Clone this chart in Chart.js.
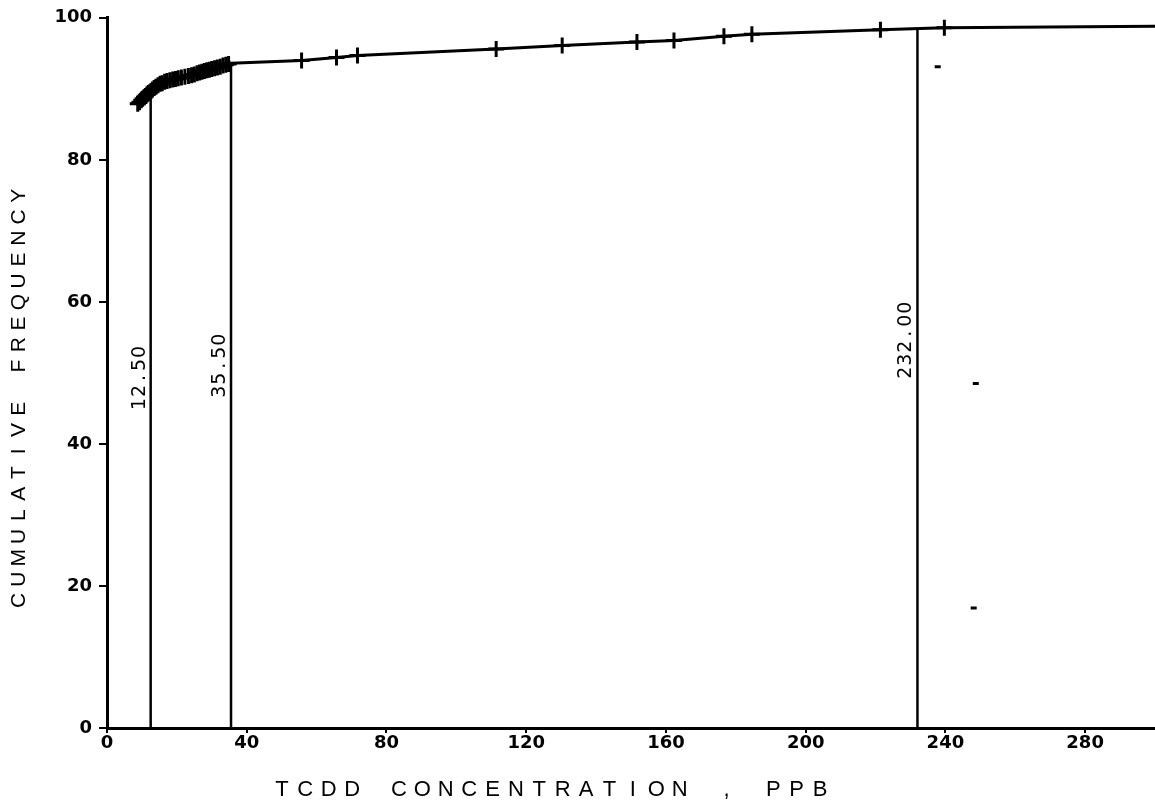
<!DOCTYPE html>
<html>
<head>
<meta charset="utf-8">
<script src="https://cdn.jsdelivr.net/npm/chart.js@4"></script>
<style>
  html, body { margin: 0; padding: 0; background: #fff; }
  #wrap { width: 1155px; height: 807px; }
</style>
</head>
<body>
<div id="wrap"><canvas id="chart" width="1155" height="807"></canvas></div>
<script>
// cumulative frequency curve (TCDD, ppb)
const cdfX = [8.8, 9.3, 9.8, 10.2, 10.6, 11.0, 11.4, 11.8, 12.2, 12.6, 13.0, 13.5, 14.0, 14.6,
  15.2, 15.8, 16.5, 17.2, 18.0, 18.8, 19.6, 20.4, 21.3, 22.3, 23.3, 24.2, 25.0, 25.8, 26.5,
  27.2, 27.9, 28.6, 29.3, 30.0, 30.8, 31.6, 32.4, 33.2, 34.0, 34.8, 35.5,
  55.7, 65.7, 71.7, 111.4, 130.3, 151.7, 162.3, 176.6, 184.6, 221.4, 239.7, 300];
const cdfY = [87.9, 88.1, 88.4, 88.6, 88.8, 89.0, 89.2, 89.4, 89.5, 89.7, 89.9, 90.1, 90.3, 90.5,
  90.7, 90.8, 91.0, 91.1, 91.2, 91.3, 91.4, 91.5, 91.6, 91.7, 91.8, 91.9, 92.0, 92.2, 92.3,
  92.4, 92.5, 92.6, 92.7, 92.8, 92.9, 93.0, 93.1, 93.3, 93.4, 93.5, 93.6,
  94.0, 94.4, 94.7, 95.6, 96.1, 96.6, 96.8, 97.4, 97.7, 98.3, 98.6, 98.8];
// which curve points carry a "+" marker
const cdfMarked = cdfX.map(x => x !== 35.5 && x !== 300);

// vertical cutoff lines
const cutoffX = [12.5, 35.5, 232.0];
const cutoffTop = [89.6, 93.6, 98.45];
const cutoffText = ['12.50', '35.50', '232.00'];
const cutoffTextY = [49.3, 51.0, 54.6];

// stray specks on the scan
const speckX = [237.8, 248.7, 248.1];
const speckY = [93.1, 48.5, 16.9];

const xTicks = [0, 40, 80, 120, 160, 200, 240, 280];
const yTicks = [0, 20, 40, 60, 80, 100];

const xTitle = 'TCDD CONCENTRATION , PPB';
const yTitle = 'CUMULATIVE FREQUENCY';

// draw a string with a fixed pitch per character, centred on (cx, cy)
function drawPitched(ctx, text, cx, cy, pitch) {
  const start = cx - (text.length - 1) * pitch / 2;
  for (let i = 0; i < text.length; i++) {
    ctx.fillText(text[i], start + i * pitch, cy);
  }
}

const textPlugin = {
  id: 'plotterText',
  afterDatasetsDraw(chart) {
    const ctx = chart.ctx;
    const xs = chart.scales.x;
    const ys = chart.scales.y;
    ctx.save();
    ctx.fillStyle = '#000';

    // cutoff labels, reading bottom to top, left of each line
    ctx.font = '19px "DejaVu Sans"';
    ctx.textAlign = 'center';
    ctx.textBaseline = 'alphabetic';
    cutoffX.forEach((v, i) => {
      const px = xs.getPixelForValue(v) - 6;
      const py = ys.getPixelForValue(cutoffTextY[i]);
      ctx.save();
      ctx.translate(px, py);
      ctx.rotate(-Math.PI / 2);
      drawPitched(ctx, cutoffText[i], 0, 0, 13);
      ctx.restore();
    });

    // axis titles
    ctx.font = '22px "Liberation Sans"';
    ctx.textBaseline = 'middle';
    drawPitched(ctx, xTitle, 551, 790, 23.4);

    ctx.font = '21px "Liberation Sans"';
    ctx.save();
    ctx.translate(19, 398);
    ctx.rotate(-Math.PI / 2);
    drawPitched(ctx, yTitle, 0, 0, 21.3);
    ctx.restore();

    ctx.restore();
  }
};

const ctx = document.getElementById('chart').getContext('2d');
const datasets = [
  {
    data: cdfX.map((x, i) => ({ x, y: cdfY[i] })),
    showLine: true,
    borderColor: '#000',
    borderWidth: 3,
    // the dense low-concentration cluster prints as a heavy band
    segment: { borderWidth: c => c.p1.parsed.x <= 35.5 ? 6 : 3 },
    pointStyle: 'cross',
    pointRadius: cdfMarked.map(m => m ? 8 : 0),
    pointBorderWidth: 3,
    pointBorderColor: '#000',
    tension: 0
  },
  ...cutoffX.map((v, i) => ({
    data: [{ x: v, y: 0 }, { x: v, y: cutoffTop[i] }],
    showLine: true,
    borderColor: '#000',
    borderWidth: 2.5,
    pointRadius: 0
  })),
  {
    data: speckX.map((x, i) => ({ x, y: speckY[i] })),
    pointStyle: 'line',
    pointRadius: 3,
    pointBorderWidth: 3,
    pointBorderColor: '#000',
    showLine: false
  }
];

new Chart(ctx, {
  type: 'scatter',
  data: { datasets },
  options: {
    responsive: false,
    animation: false,
    devicePixelRatio: 1,
    layout: { autoPadding: false, padding: { top: 17, right: 0, left: 0, bottom: 0 } },
    plugins: {
      legend: { display: false },
      tooltip: { enabled: false }
    },
    scales: {
      x: {
        type: 'linear',
        min: 0,
        max: 300,
        afterBuildTicks: scale => { scale.ticks = xTicks.map(value => ({ value })); },
        afterFit: scale => { scale.height = 79; },
        border: { display: true, color: '#000', width: 3 },
        grid: { drawOnChartArea: false, drawTicks: true, tickLength: 5, lineWidth: 2, color: '#000' },
        ticks: {
          color: '#000',
          padding: 0,
          maxRotation: 0,
          font: { family: 'DejaVu Sans', size: 18, weight: 'bold' }
        }
      },
      y: {
        type: 'linear',
        min: 0,
        max: 100,
        afterBuildTicks: scale => { scale.ticks = yTicks.map(value => ({ value })); },
        afterFit: scale => { scale.width = 107; },
        border: { display: true, color: '#000', width: 3 },
        grid: { drawOnChartArea: false, drawTicks: true, tickLength: 8, lineWidth: 2, color: '#000' },
        ticks: {
          color: '#000',
          padding: 7,
          font: { family: 'DejaVu Sans', size: 18, weight: 'bold' }
        }
      }
    }
  },
  plugins: [textPlugin]
});
</script>
</body>
</html>
